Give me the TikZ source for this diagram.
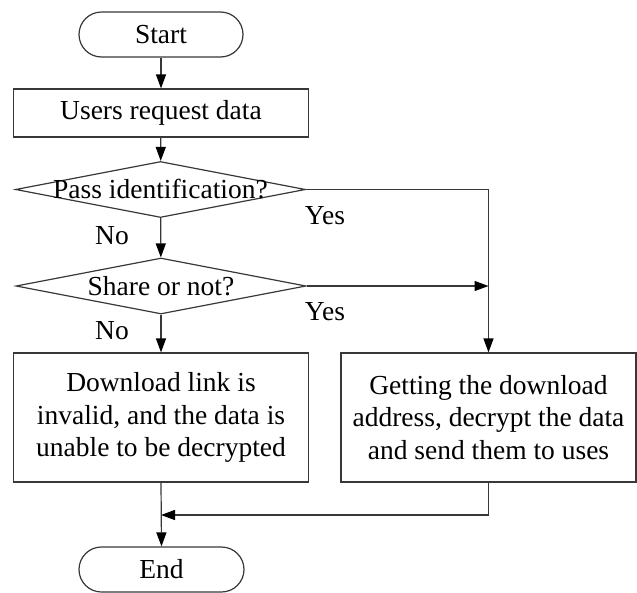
\documentclass[tikz,border=0pt]{standalone}
\usepackage{fontspec}
\setmainfont{Liberation Serif}
\usetikzlibrary{shapes.geometric,arrows.meta}

\tikzset{
  line/.style={draw=black!78, line width=1.2pt},
  flow/.style={line, -{Triangle[length=14pt,width=10pt,color=black,fill=black]}},
  terminal/.style={line, rectangle, rounded corners=22.5pt, minimum width=164pt,
    minimum height=45pt, inner sep=0pt},
  process/.style={line, rectangle, minimum width=295pt, inner sep=0pt, align=center},
  decision/.style={line, diamond, minimum width=290pt, minimum height=56pt, inner sep=0pt},
  label/.style={inner sep=0pt},
}

\begin{document}
\begin{tikzpicture}[x=1pt, y=-1pt, font=\fontsize{27.5}{32.5}\selectfont]
  \useasboundingbox (0,0) rectangle (637,592);

  % main column
  \node[terminal] (start) at (161,34.5) {Start};
  \node[process, minimum height=48pt] (req) at (161,113) {Users request data};
  \node[decision] (pass) at (160.5,189.5) {\makebox[0pt]{Pass identification?}};
  \node[decision] (share) at (161,286) {\makebox[0pt]{Share or not?}};
  \node[process, minimum height=129pt] (fail) at (161,417.5)
    {Download link is\\invalid, and the data is\\unable to be decrypted};
  \node[process, minimum height=129pt] (ok) at (488.5,417.5)
    {Getting the download\\address, decrypt the data\\and send them to uses};
  \node[terminal, minimum width=165pt] (end) at (161.5,569.5) {End};

  % branch points
  \coordinate (corner) at (ok.north |- pass.east);
  \coordinate (meet) at (ok.north |- share.east);
  \coordinate (drop) at (ok.south |- 0,515);
  \coordinate (join) at (fail.south |- 0,515);

  % connectors
  \draw[flow] (start) -- (req);
  \draw[flow] (req) -- (pass);
  \draw[flow] (pass) -- (share);
  \draw[flow] (share) -- (fail);
  \draw[flow] (pass.east) -- (corner) -- (ok.north);
  \draw[flow] (share.east) -- (meet);
  \draw[flow] (ok.south) -- (drop) -- (join);
  \draw[flow] (fail.south) -- (end.north);

  % branch labels
  \node[label] (no1) at (112,236) {No};
  \node[label] (no2) at (112,331) {No};
  \node[label] (yes1) at (325,216) {Yes};
  \node[label] (yes2) at (325,312) {Yes};
\end{tikzpicture}
\end{document}
